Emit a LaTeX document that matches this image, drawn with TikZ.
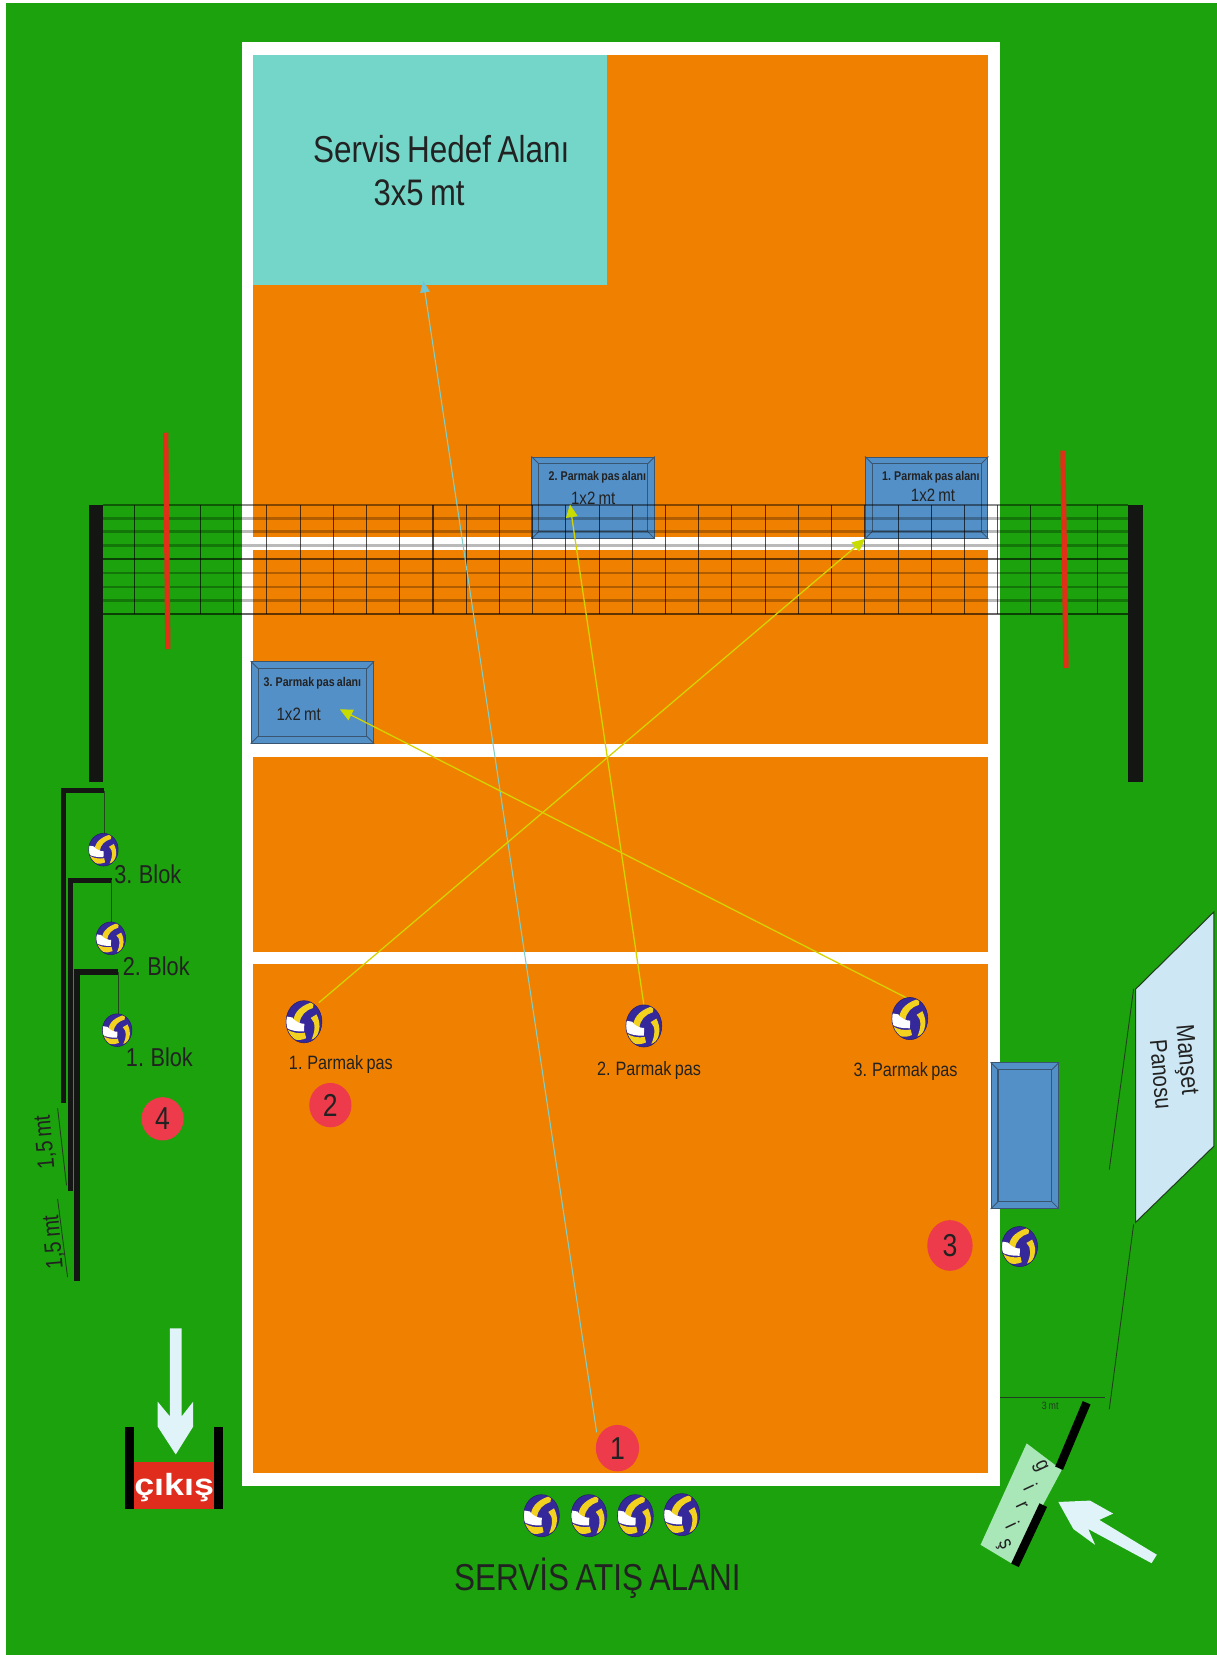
\documentclass[tikz,border=0pt]{standalone}
\usepackage{fontspec}
\setmainfont[FakeStretch=0.84,WordSpace=0.75]{Liberation Sans}
\newfontfamily\exitfont[FakeStretch=1.17]{Liberation Sans}
\usetikzlibrary{arrows.meta,calc,shapes.geometric}
\definecolor{grass}{HTML}{1BA20C}
\definecolor{courto}{HTML}{F08000}
\definecolor{tealc}{HTML}{74D6C9}
\definecolor{panelb}{HTML}{5490C8}
\definecolor{paneld}{HTML}{3A5570}
\definecolor{ballnavy}{HTML}{35289A}
\definecolor{ballyel}{HTML}{F2D21E}
\definecolor{circred}{HTML}{EE3B4B}
\definecolor{antred}{HTML}{E03018}
\definecolor{ink}{HTML}{222222}
\definecolor{polec}{HTML}{141614}
\definecolor{arrowy}{HTML}{D4D400}
\definecolor{tipy}{HTML}{C8DC00}
\definecolor{servec}{HTML}{7FCFC8}
\definecolor{servet}{HTML}{6FC7D6}
\definecolor{palew}{HTML}{DFF3F8}
\definecolor{board}{HTML}{CDE8F4}
\definecolor{gate}{HTML}{A9E6B8}
\definecolor{exitred}{HTML}{DF2C1C}
\tikzset{
  panel/.style={draw=paneld,fill=panelb,line width=1pt,inner sep=0pt,rectangle},
  numc/.style={ellipse,fill=circred,inner sep=0pt,text=ink,font=\fontsize{30}{30}\selectfont},
  lbl/.style={text=ink,inner sep=0pt,font=\fontsize{18.3}{19}\selectfont},
  blok/.style={text=ink,inner sep=0pt,font=\fontsize{24.5}{25}\selectfont},
  tinybold/.style={text=ink,inner sep=0pt,font=\fontsize{12}{12}\bfseries\selectfont},
  mtl/.style={text=ink,inner sep=0pt,font=\fontsize{17}{17}\selectfont},
  pass/.style={arrowy,line width=1.2pt,-{Triangle[length=12pt,width=11pt,fill=tipy,color=tipy]}},
  serve/.style={servec,line width=1pt,-{Triangle[length=11pt,width=9pt,fill=servet,color=servet]}},
  blockframe/.style={polec,miter limit=10},
  hang/.style={draw=ink!70!grass,line width=1pt},
  thinl/.style={draw=ink!80!grass,line width=.8pt},
  netH/.style={black,opacity=.27,line width=2.4pt},
  netV/.style={black,opacity=.68,line width=1pt},
  pics/ball/.style={code={
    \begin{scope}
      \clip (0,0) circle[radius=1];
      \fill[ballnavy] (-1,-1) rectangle (1,1);
      \fill[ballyel] (0.55,-0.95) .. controls (-0.1,-0.8) and (-0.55,-0.5) .. (-0.6,-0.02)
        -- (-0.25,0.08) .. controls (-0.2,-0.3) and (0.1,-0.55) .. (0.5,-0.65) -- cycle;
      \fill[white] (-1,-0.25) -- (-0.65,-0.2) .. controls (-0.5,0) and (-0.2,0.1) .. (0.02,0.1)
        -- (0,0.46) .. controls (-0.4,0.48) and (-0.8,0.4) .. (-1,0.28) -- cycle;
      \fill[ballyel] (-1,0.33) .. controls (-0.7,0.52) and (-0.3,0.58) .. (0.05,0.52)
        -- (0.12,0.78) .. controls (-0.3,0.95) and (-0.8,0.85) .. (-1,0.55) -- cycle;
      \fill[ballyel] (0.38,-0.18) .. controls (0.68,0.05) and (0.62,0.45) .. (0.42,0.85)
        -- (0.68,0.75) .. controls (0.9,0.4) and (0.95,0.1) .. (0.7,-0.35) -- cycle;
    \end{scope}
    \draw[ballnavy!70!black,line width=.5pt] (0,0) circle[radius=1];
  }}
}
\newcommand{\ballat}[4]{\pic[xscale=#3,yscale=#4] at (#1,#2) {ball};}
\newcommand{\bevel}[2]{%
  \draw[paneld,line width=1pt] ($(#1.north west)+(#2,#2)$) rectangle ($(#1.south east)+(-#2,-#2)$);
  \draw[paneld,line width=.8pt] (#1.north west) -- ++(#2,#2) (#1.north east) -- ++(-#2,#2)
    (#1.south west) -- ++(#2,-#2) (#1.south east) -- ++(-#2,-#2);}
\begin{document}
\begin{tikzpicture}[x=1pt,y=-1pt]
\useasboundingbox (0,0) rectangle (1153,1568);
\fill[white] (0,0) rectangle (1153,1568);
\fill[grass] (5.5,2.8) rectangle (1153,1568);
% court
\fill[white] (229,40) rectangle (947,1408);
\fill[courto] (240,52) rectangle (936,509);
\fill[courto] (240,521) rectangle (936,705);
\fill[courto] (240,717) rectangle (936,902);
\fill[courto] (240,913) rectangle (936,1396);
% service target
\node[fill=tealc,minimum width=335pt,minimum height=218pt,inner sep=0pt,outer sep=0pt,anchor=north west] (target) at (240,52) {};
\node[text=ink,inner sep=0pt,font=\fontsize{35.5}{36}\selectfont] (tt1) at (418,141) {Servis Hedef Alanı};
\node[text=ink,inner sep=0pt,font=\fontsize{35}{35}\selectfont] (tt2) at (397,183) {3x5 mt};
% panels
\node[panel,minimum width=116pt,minimum height=77pt] (box2) at (562,471.5) {};
\node[panel,minimum width=116pt,minimum height=77pt] (box1) at (878,471.5) {};
\node[panel,minimum width=116pt,minimum height=77pt] (box3) at (296,665.5) {};
\node[panel,minimum width=64pt,minimum height=138pt] (box4) at (971,1076) {};
\bevel{box2}{7}\bevel{box1}{7}\bevel{box3}{7}\bevel{box4}{7}
\node[tinybold] (l2) at (566,452) {2. Parmak pas alanı};
\node[mtl] (m2) at (562,472) {1x2 mt};
\node[tinybold] (l1) at (882,452) {1. Parmak pas alanı};
\node[mtl] (m1) at (884,469) {1x2 mt};
\node[tinybold] (l3) at (296,647) {3. Parmak pas alanı};
\node[mtl] (m3) at (283,677) {1x2 mt};
% net
\foreach \yy in {491,503.6,516.8,543,556,568.7} \draw[netH] (98,\yy) -- (1069,\yy);
\draw[black,opacity=.6,line width=1.6pt] (98,529.7) -- (1069,529.7);
\draw[black,opacity=.45,line width=1.2pt] (98,478.5) -- (1069,478.5);
\draw[black,opacity=.6,line width=1.2pt] (98,581.7) -- (1069,581.7);
\foreach \k in {0,...,29} \draw[netV] ({127+31.47*\k},478.5) -- ({127+31.47*\k},581.7);
% poles and antennas
\fill[polec] (84,478) rectangle (97.5,741);
\fill[polec] (1069,478) rectangle (1082.5,741);
\draw[antred,line width=5pt] (157,410) -- (159,615);
\draw[antred,line width=5pt] (1007,427) -- (1010,633);
% block frames
\draw[blockframe,line width=4.6pt] (99,749) -- (60.3,749) -- (60.3,1045);
\draw[blockframe,line width=4.8pt] (106,834) -- (66.5,834) -- (66.5,1128);
\draw[blockframe,line width=6pt] (112,921) -- (72.8,921) -- (72.8,1214);
\draw[hang] (99,749) -- (99,792);
\draw[hang] (105.5,834) -- (105.5,875);
\draw[hang] (112,921) -- (112,963);
% dimension marks
\draw[thinl] (54.6,1050) -- (63,1123);
\draw[thinl] (54.6,1136) -- (64,1210);
\node[text=ink,inner sep=0pt,rotate=95,font=\fontsize{22.5}{23}\selectfont] (d1) at (43,1082) {1,5 mt};
\node[text=ink,inner sep=0pt,rotate=95,font=\fontsize{22.5}{23}\selectfont] (d2) at (51,1177) {1,5 mt};
% numbered circles
\node[numc,minimum width=41pt,minimum height=44pt] (n1) at (585,1372) {1};
\node[numc,minimum width=40pt,minimum height=42pt] (n2) at (313,1047) {2};
\node[numc,minimum width=43pt,minimum height=48pt] (n3) at (900,1180) {3};
\node[numc,minimum width=40pt,minimum height=41pt] (n4) at (154,1060) {4};
% named ends of the passes
\coordinate (p1) at (302,950);
\coordinate (p2) at (610,952);
\coordinate (p3) at (862,947);
\coordinate (t2) at (540,478);
\coordinate (t3) at (322,672);
\coordinate (t0) at (401,266);
\draw[serve] (n1.west) ++(1,-15) -- (t0);
\draw[pass] (p1) -- (box1.south west);
\draw[pass] (p2) -- (t2);
\draw[pass] (p3) -- (t3);
% balls
\ballat{288}{968}{17}{20}
\ballat{610}{972}{17}{20}
\ballat{862}{965}{17}{20}
\ballat{98}{805}{14}{15.5}
\ballat{105}{889}{14}{15.5}
\ballat{111}{976}{14}{15.5}
\ballat{966}{1181}{17}{19}
\ballat{513}{1436}{17}{20}
\ballat{558}{1436}{17}{20}
\ballat{602}{1436}{17}{20}
\ballat{646}{1435}{17}{20}
% labels
\node[lbl] (a1) at (323,1009) {1. Parmak pas};
\node[lbl] (a2) at (615,1014) {2. Parmak pas};
\node[lbl] (a3) at (858,1015) {3. Parmak pas};
\node[blok] (b3) at (140,828) {3. Blok};
\node[blok] (b2) at (148,915) {2. Blok};
\node[blok] (b1) at (151,1002) {1. Blok};
\node[text=ink,inner sep=0pt,font=\fontsize{35.5}{36}\selectfont] (sa) at (566,1495) {SERVİS ATIŞ ALANI};
% exit
\fill[exitred] (127,1385) rectangle (203,1430);
\fill[black] (118.6,1351.6) rectangle (127.4,1430);
\fill[black] (203,1351.6) rectangle (211.5,1430);
\node[text=white,inner sep=0pt,font=\exitfont\fontsize{29}{29}\bfseries\selectfont] (ex) at (165,1409) {çıkış};
\fill[palew] (166.5,1378) -- (149.4,1351.6) -- (149.4,1328) -- (161,1342) -- (161,1258.5)
  -- (172,1258.5) -- (172,1342) -- (183,1328) -- (183,1351.6) -- cycle;
% board
\draw[ink!80!grass,fill=board,line width=1pt] (1076,937) -- (1150,864) -- (1150,1086) -- (1076,1158) -- cycle;
\node[text=ink,inner sep=0pt,rotate=-85,font=\fontsize{24}{24}\selectfont] (man) at (1123,1004) {Manşet};
\node[text=ink,inner sep=0pt,rotate=-85,font=\fontsize{23}{23}\selectfont] (pan) at (1100,1018) {Panosu};
\draw[thinl] (1074,937) -- (1051,1108);
\draw[thinl] (1074,1160) -- (1051,1335);
\draw[thinl] (947,1323.5) -- (1047,1323.5);
\node[text=ink!80!grass,inner sep=0pt,font=\fontsize{10}{10}\selectfont] (tm) at (995,1332) {3 mt};
% entrance
\fill[gate] (972.7,1367.5) -- (1005.9,1392.7) -- (958.5,1481.3) -- (929,1463.6) -- cycle;
\draw[black,line width=8pt] (1029.5,1329) -- (1003.4,1391);
\draw[black,line width=8pt] (988.4,1426) -- (961.6,1483);
\foreach \tx/\ty/\ch in {985.3/1389/g,976.5/1409/i,968/1427/r,959.5/1445/i,950.5/1464/ş}
  \node[text=ink,inner sep=0pt,rotate=-65,font=\fontsize{20}{20}\selectfont] at (\tx,\ty) {\ch};
\fill[palew] (1002.7,1423) -- (1032.7,1421.7) -- (1054.6,1434) -- (1041.5,1440) -- (1096,1473)
  -- (1091,1481) -- (1031,1448.6) -- (1037.6,1463.7) -- (1016.9,1448.6) -- cycle;
\end{tikzpicture}
\end{document}
